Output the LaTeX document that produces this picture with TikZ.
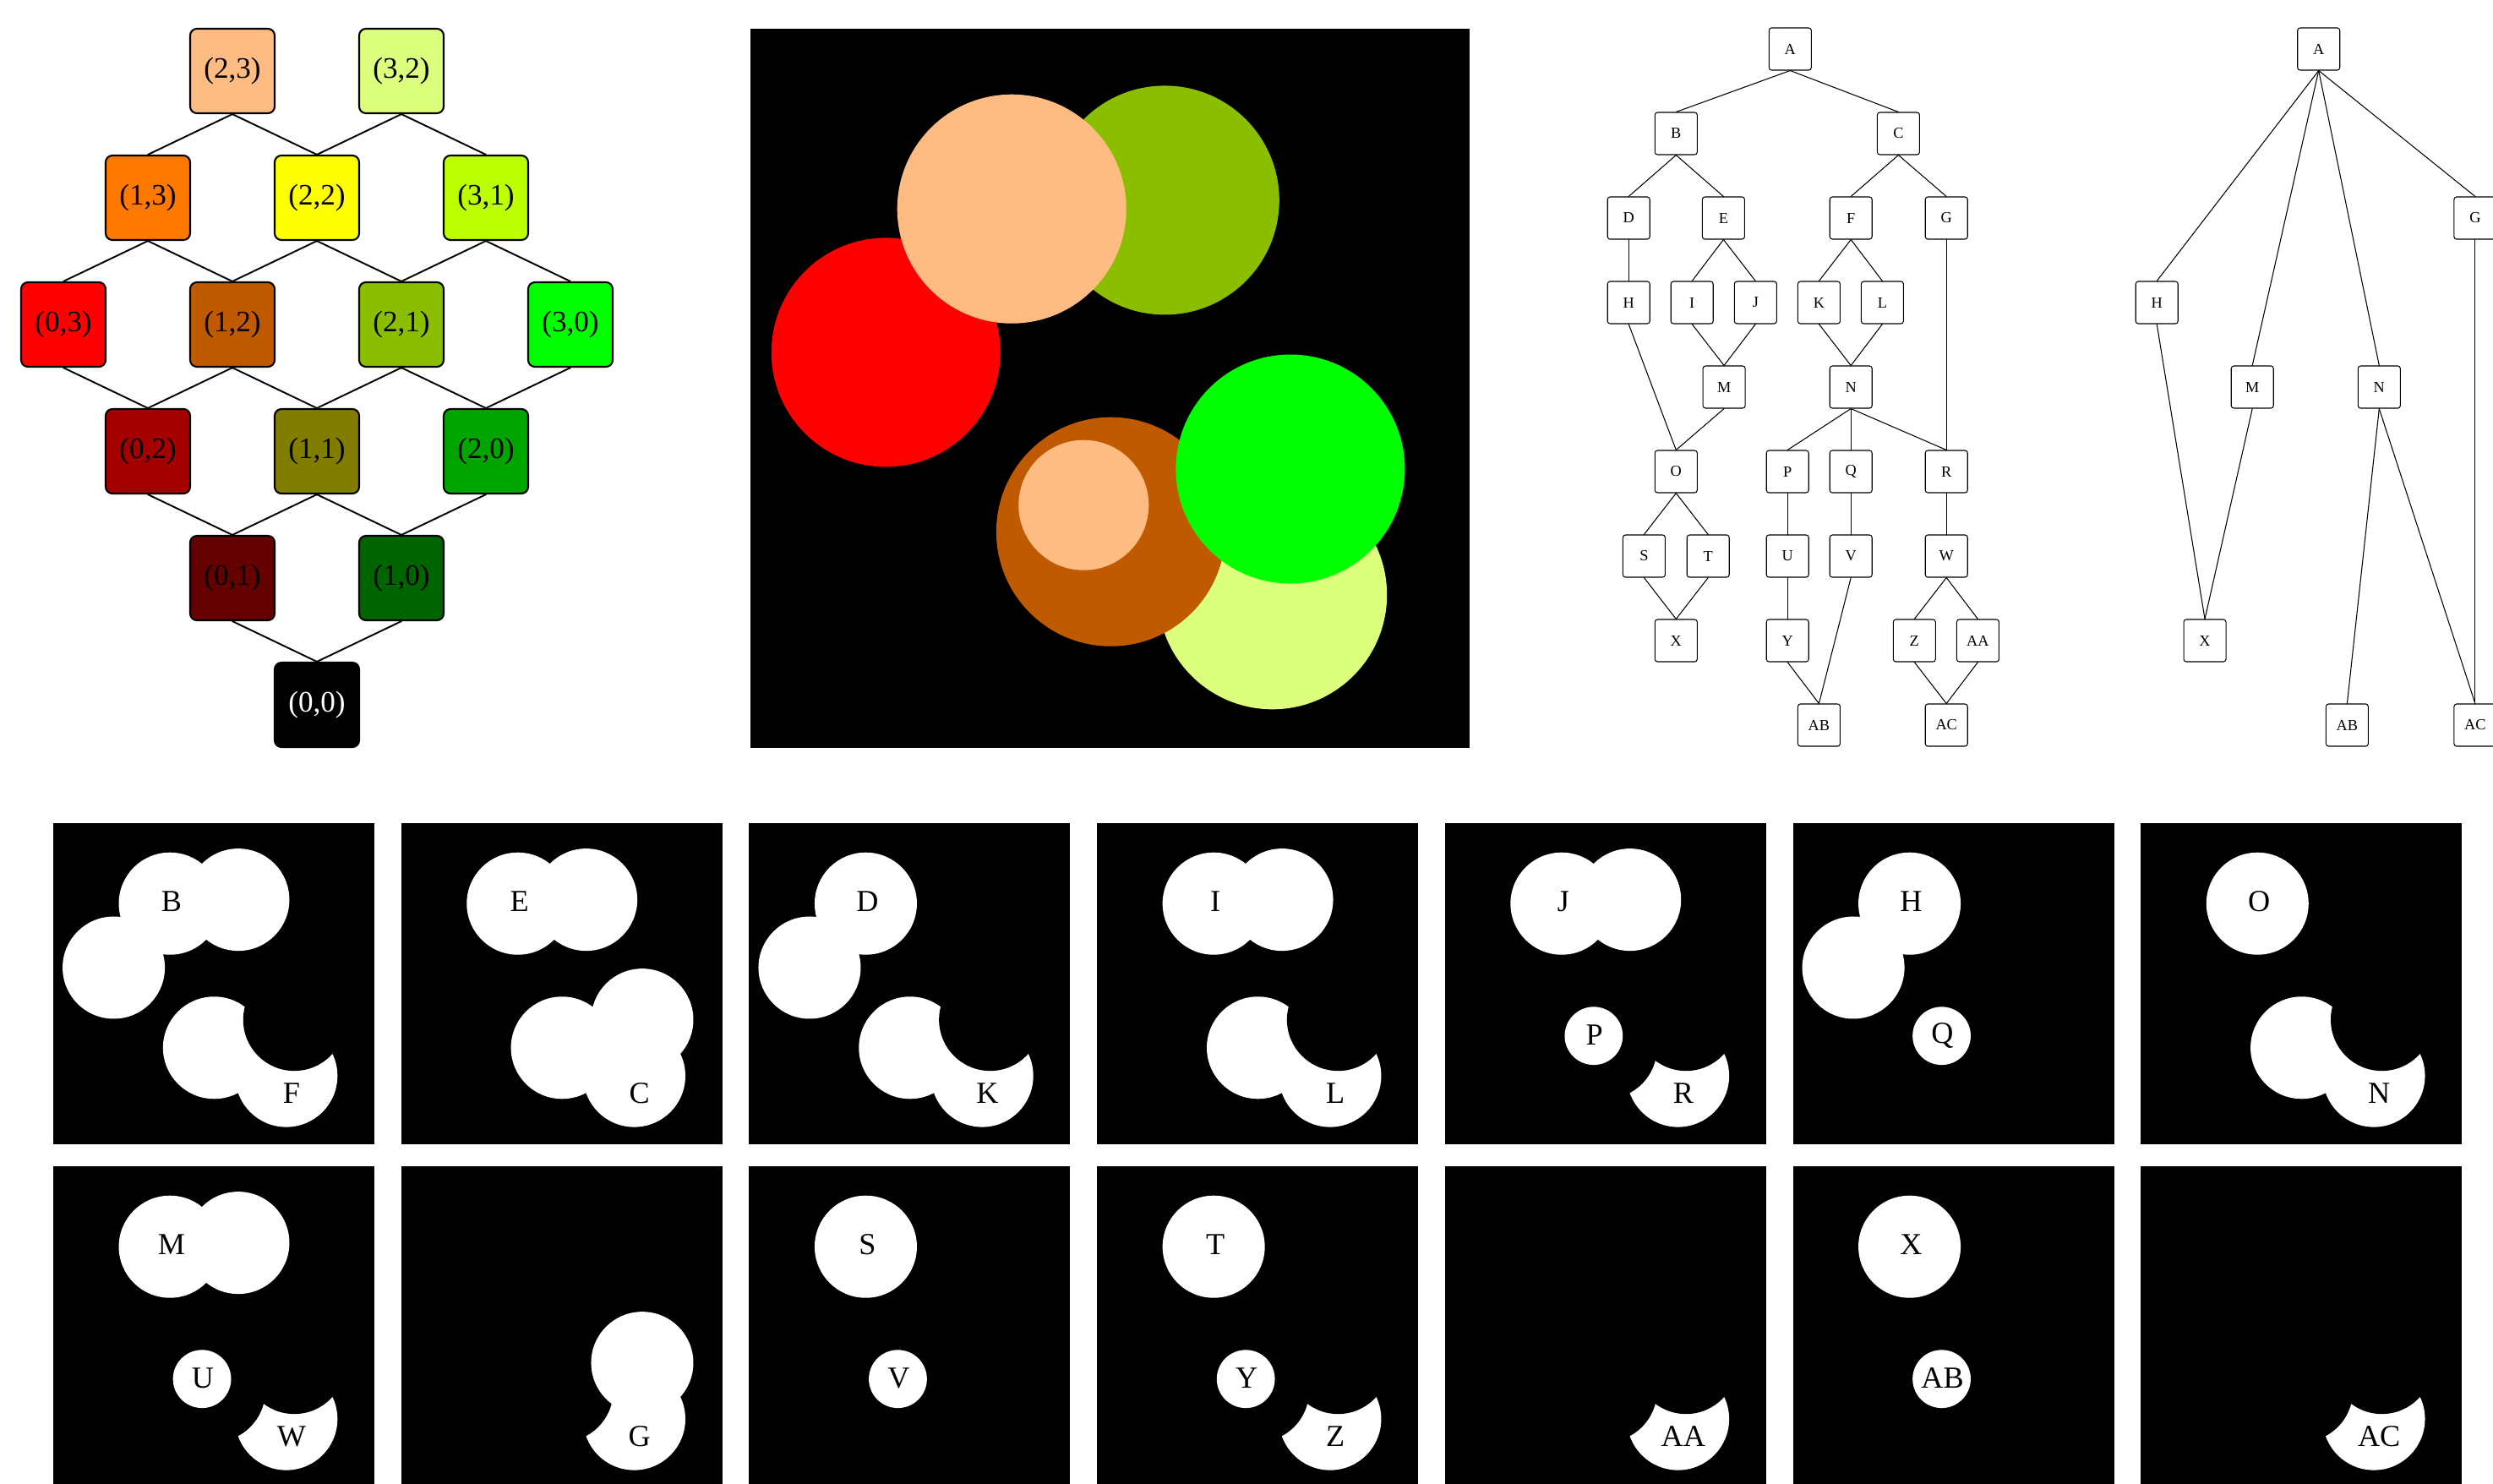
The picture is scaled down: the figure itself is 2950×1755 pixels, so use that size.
\documentclass[tikz,border=0pt]{standalone}
\usepackage{fontspec}
\setmainfont{Liberation Serif}
\definecolor{c00}{HTML}{000000}
\definecolor{c01}{HTML}{640000}
\definecolor{c02}{HTML}{A50000}
\definecolor{c03}{HTML}{FF0000}
\definecolor{c10}{HTML}{006400}
\definecolor{c11}{HTML}{807D00}
\definecolor{c12}{HTML}{BF5A00}
\definecolor{c13}{HTML}{FF7800}
\definecolor{c20}{HTML}{00A500}
\definecolor{c21}{HTML}{8CBE00}
\definecolor{c22}{HTML}{FFFF00}
\definecolor{c23}{HTML}{FFBC82}
\definecolor{c30}{HTML}{00FF00}
\definecolor{c31}{HTML}{BBFF00}
\definecolor{c32}{HTML}{DCFF7D}
\newcommand{\rgO}{(490.3,202.9) circle[radius=135.5]}
\newcommand{\rgR}{(160.3,382.9) circle[radius=135.5]}
\newcommand{\rgP}{(309.2,213.2) circle[radius=135.5]}
\newcommand{\rgY}{(617.7,669.8) circle[radius=135.5]}
\newcommand{\rgB}{(426.4,595.2) circle[radius=135.5]}
\newcommand{\rgS}{(394.3,563.7) circle[radius=77]}
\newcommand{\rgG}{(638.9,521) circle[radius=135.5]}
\begin{document}
\begin{tikzpicture}[x=0.1mm, y=-0.1mm, line join=round, line cap=round,
	lat/.style={draw, line width=0.6pt, rounded corners=0.8mm, minimum size=10mm, inner sep=0pt, font=\fontsize{10}{12}\selectfont},
	tnode/.style={draw, line width=0.3pt, rounded corners=0.3mm, minimum size=5mm, inner sep=0pt, font=\fontsize{5.2}{6}\selectfont},
	lab/.style={inner sep=0pt, font=\fontsize{10.3}{12}\selectfont}]
	\useasboundingbox (0,0) rectangle (2950,1755);
	\foreach \i in {0,...,3}
		\foreach \j in {0,...,3}{
			\pgfmathtruncatemacro\s{\i+\j}
			\ifnum\s=0 \def\tc{white}\else\def\tc{black}\fi
			\ifnum\s<6
				\node[lat, fill=c\i\j, text=\tc] (l\i\j) at ({75+100*(3+\i-\j)},{84+150*(5-\s)}) {(\i,\j)};
			\fi
		}
	\foreach \i in {0,...,3}
		\foreach \j in {0,...,3}{
			\pgfmathtruncatemacro\s{\i+\j}
			\pgfmathtruncatemacro\ii{\i+1}
			\pgfmathtruncatemacro\jj{\j+1}
			\ifnum\s<5
				\ifnum\i<3 \draw[line width=0.55pt] (l\i\j.north) -- (l\ii\j.south); \fi
				\ifnum\j<3 \draw[line width=0.55pt] (l\i\j.north) -- (l\i\jj.south); \fi
			\fi
		}
	\begin{scope}[shift={(888,34)}]
		\fill (0,0) rectangle (851,851);
		\fill[c21] \rgO;
		\fill[c03] \rgR;
		\fill[c23] \rgP;
		\fill[c32] \rgY;
		\fill[c12] \rgB;
		\fill[c23] \rgS;
		\fill[c30] \rgG;
	\end{scope}
	\foreach \n/\x/\r in {A/2118.3/0, B/1983.3/1, C/2246.4/1, D/1927.2/2, E/2039.4/2, F/2190.2/2, G/2303.2/2,
		H/1927.2/3, I/2002.2/3, J/2077.3/3, K/2152.4/3, L/2227.4/3, M/2040.1/4, N/2190.2/4,
		O/1983.3/5, P/2115.2/5, Q/2190.2/5, R/2303.2/5, S/1945.4/6, T/2021.2/6, U/2115.2/6, V/2190.2/6, W/2303.2/6,
		X/1983.3/7, Y/2115.2/7, Z/2265.3/7, AA/2340.4/7, AB/2152.4/8, AC/2303.2/8}
		\node[tnode] (t\n) at (\x,{58+100*\r}) {\n};
	\foreach \a/\b in {A/B, A/C, B/D, B/E, C/F, C/G, D/H, E/I, E/J, F/K, F/L, I/M, J/M, K/N, L/N,
		H/O, M/O, G/R, N/P, N/Q, N/R, O/S, O/T, P/U, Q/V, R/W, S/X, T/X, U/Y, V/AB, Y/AB, W/Z, W/AA, Z/AC, AA/AC}
		\draw[line width=0.3pt] (t\a.south) -- (t\b.north);
	\foreach \n/\x/\r in {A/2743.7/0, G/2928.9/2, H/2552.2/3, M/2665.2/4, N/2815.3/4, X/2609/7, AB/2777.4/8, AC/2928.9/8}
		\node[tnode] (r\n) at (\x,{58+100*\r}) {\n};
	\foreach \a/\b in {A/H, A/M, A/N, A/G, H/X, M/X, N/AB, N/AC, G/AC}
		\draw[line width=0.3pt] (r\a.south) -- (r\b.north);
	\begin{scope}[shift={(63,974)}, scale=0.4465]
		\fill (0,0) rectangle (851,851);
		\fill[white] \rgR \rgP \rgO \rgB \rgY;
		\fill \rgG;
		\node[lab] (qB) at (313.5,208) {B};
		\node[lab] (qF) at (631.6,716.7) {F};
	\end{scope}
	\begin{scope}[shift={(474.7,974)}, scale=0.4465]
		\fill (0,0) rectangle (851,851);
		\fill[white] \rgP \rgO \rgB \rgG \rgY;
		\node[lab] (qE) at (313.5,208) {E};
		\node[lab] (qC) at (631.6,716.7) {C};
	\end{scope}
	\begin{scope}[shift={(886.4,974)}, scale=0.4465]
		\fill (0,0) rectangle (851,851);
		\fill[white] \rgR \rgP \rgB \rgY;
		\fill \rgG;
		\node[lab] (qD) at (313.5,208) {D};
		\node[lab] (qK) at (631.6,716.7) {K};
	\end{scope}
	\begin{scope}[shift={(1298.1,974)}, scale=0.4465]
		\fill (0,0) rectangle (851,851);
		\fill[white] \rgP \rgO \rgB \rgY;
		\fill \rgG;
		\node[lab] (qI) at (313.5,208) {I};
		\node[lab] (qL) at (631.6,716.7) {L};
	\end{scope}
	\begin{scope}[shift={(1709.8,974)}, scale=0.4465]
		\fill (0,0) rectangle (851,851);
		\fill[white] \rgP \rgO \rgY;
		\fill \rgB \rgG;
		\fill[white] \rgS;
		\node[lab] (qJ) at (313.5,208) {J};
		\node[lab] (qP) at (396.4,562.1) {P};
		\node[lab] (qR) at (631.6,716.7) {R};
	\end{scope}
	\begin{scope}[shift={(2121.5,974)}, scale=0.4465]
		\fill (0,0) rectangle (851,851);
		\fill[white] \rgR \rgP \rgS;
		\node[lab] (qH) at (313.5,208) {H};
		\node[lab] (qQ) at (396.4,562.1) {Q};
	\end{scope}
	\begin{scope}[shift={(2533.2,974)}, scale=0.4465]
		\fill (0,0) rectangle (851,851);
		\fill[white] \rgP \rgB \rgY;
		\fill \rgG;
		\node[lab] (qO) at (313.5,208) {O};
		\node[lab] (qN) at (631.6,716.7) {N};
	\end{scope}
	\begin{scope}[shift={(63,1380)}, scale=0.4465]
		\fill (0,0) rectangle (851,851);
		\fill[white] \rgP \rgO \rgY;
		\fill \rgB \rgG;
		\fill[white] \rgS;
		\node[lab] (qM) at (313.5,208) {M};
		\node[lab] (qU) at (396.4,562.1) {U};
		\node[lab] (qW) at (631.6,716.7) {W};
	\end{scope}
	\begin{scope}[shift={(474.7,1380)}, scale=0.4465]
		\fill (0,0) rectangle (851,851);
		\fill[white] \rgY;
		\fill \rgB;
		\fill[white] \rgG;
		\node[lab] (qG) at (631.6,716.7) {G};
	\end{scope}
	\begin{scope}[shift={(886.4,1380)}, scale=0.4465]
		\fill (0,0) rectangle (851,851);
		\fill[white] \rgP \rgS;
		\node[lab] (qS) at (313.5,208) {S};
		\node[lab] (qV) at (396.4,562.1) {V};
	\end{scope}
	\begin{scope}[shift={(1298.1,1380)}, scale=0.4465]
		\fill (0,0) rectangle (851,851);
		\fill[white] \rgP \rgY;
		\fill \rgB \rgG;
		\fill[white] \rgS;
		\node[lab] (qT) at (313.5,208) {T};
		\node[lab] (qY) at (396.4,562.1) {Y};
		\node[lab] (qZ) at (631.6,716.7) {Z};
	\end{scope}
	\begin{scope}[shift={(1709.8,1380)}, scale=0.4465]
		\fill (0,0) rectangle (851,851);
		\fill[white] \rgY;
		\fill \rgB \rgG;
		\node[lab] (qAA) at (631.6,716.7) {AA};
	\end{scope}
	\begin{scope}[shift={(2121.5,1380)}, scale=0.4465]
		\fill (0,0) rectangle (851,851);
		\fill[white] \rgP \rgS;
		\node[lab] (qX) at (313.5,208) {X};
		\node[lab] (qAB) at (396.4,562.1) {AB};
	\end{scope}
	\begin{scope}[shift={(2533.2,1380)}, scale=0.4465]
		\fill (0,0) rectangle (851,851);
		\fill[white] \rgY;
		\fill \rgB \rgG;
		\node[lab] (qAC) at (631.6,716.7) {AC};
	\end{scope}
\end{tikzpicture}
\end{document}
